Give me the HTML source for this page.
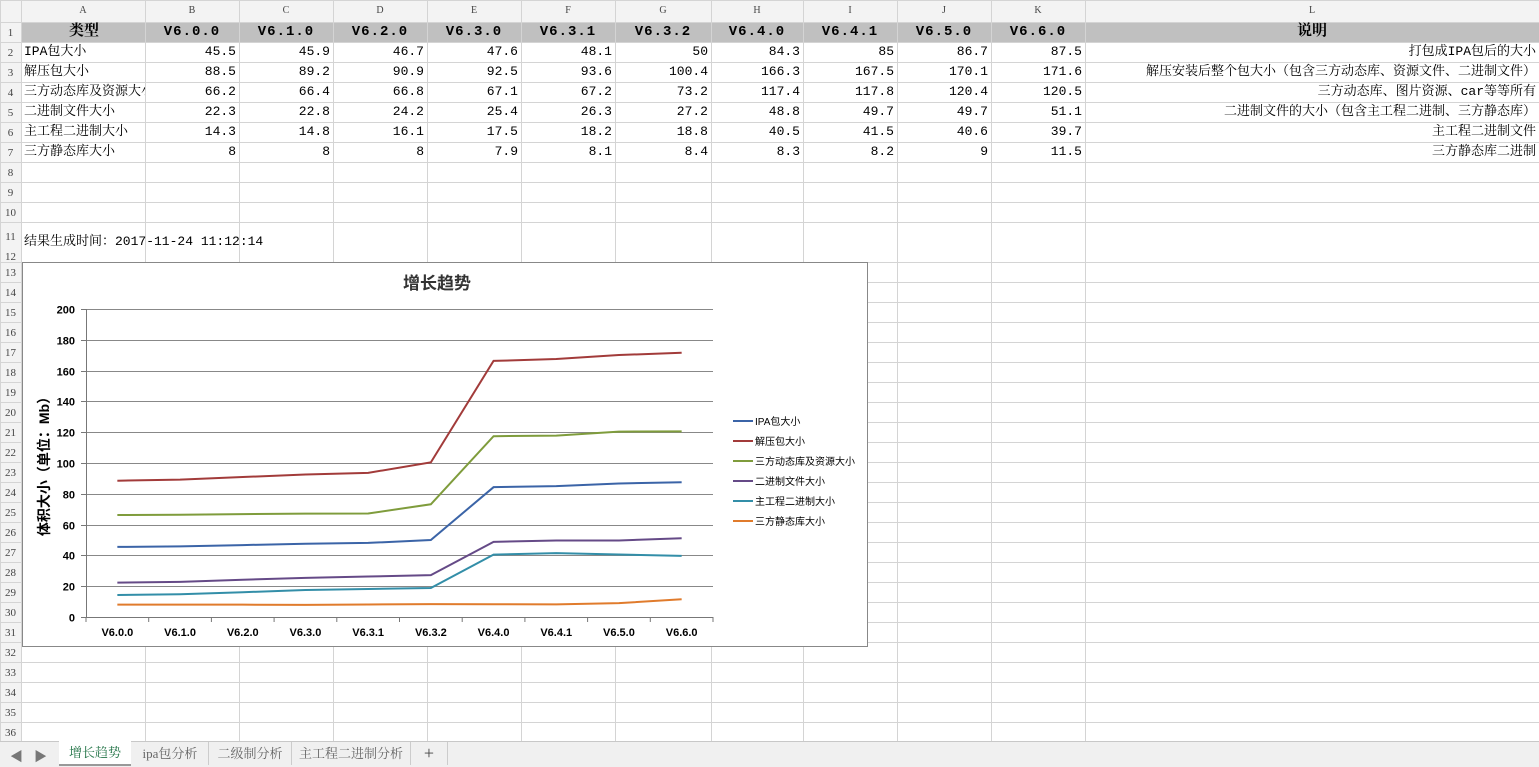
<!DOCTYPE html>
<html><head><meta charset="utf-8"><style>
body{margin:0;width:1539px;height:766px;overflow:hidden;background:#fff;font-family:"Liberation Mono","Noto Serif CJK SC",monospace;position:relative}
.abs{position:absolute}
.c{position:absolute;font-size:13px;white-space:nowrap;overflow:hidden;line-height:20px}
</style></head><body>
<svg class="abs" style="left:0;top:0" width="1539" height="766" id="grid"></svg>
<div id="cells"></div>
<svg class="abs" style="left:22px;top:262px;background:#fff" width="846" height="385" id="chart"></svg>
<div class="abs" style="left:0;top:741px;width:1539px;height:25px;background:#f0f0f0;border-top:1px solid #c8c8c8;font-size:13px;color:#666;font-family:'Liberation Serif','Noto Serif CJK SC',serif">
<span class="abs" style="left:10px;top:4px;color:#777">◀</span>
<span class="abs" style="left:34px;top:4px;color:#777">▶</span>
<div class="abs" style="left:59px;top:-1px;width:72px;height:23px;background:#fff;border-bottom:2px solid #999;color:#217346;text-align:center;line-height:23px">增长趋势</div>
<div class="abs" style="left:132px;top:0;width:76px;line-height:23px;text-align:center;border-right:1px solid #ccc">ipa包分析</div>
<div class="abs" style="left:209px;top:0;width:82px;line-height:23px;text-align:center;border-right:1px solid #ccc">二级制分析</div>
<div class="abs" style="left:292px;top:0;width:118px;line-height:23px;text-align:center;border-right:1px solid #ccc">主工程二进制分析</div>
<div class="abs" style="left:411px;top:0;width:36px;line-height:23px;text-align:center;font-size:18px;color:#444;border-right:1px solid #ccc">+</div>
</div>
<script>
const NS="http://www.w3.org/2000/svg";
const colX=[0,21,145,239,333,427,521,615,711,803,897,991,1085,1539];
const letters=["A","B","C","D","E","F","G","H","I","J","K","L"];
const versions=["V6.0.0","V6.1.0","V6.2.0","V6.3.0","V6.3.1","V6.3.2","V6.4.0","V6.4.1","V6.5.0","V6.6.0"];
const names=["IPA包大小","解压包大小","三方动态库及资源大小","二进制文件大小","主工程二进制大小","三方静态库大小"];
const s1=[45.5,45.9,46.7,47.6,48.1,50,84.3,85,86.7,87.5];
const s2=[88.5,89.2,90.9,92.5,93.6,100.4,166.3,167.5,170.1,171.6];
const s3=[66.2,66.4,66.8,67.1,67.2,73.2,117.4,117.8,120.4,120.5];
const s4=[22.3,22.8,24.2,25.4,26.3,27.2,48.8,49.7,49.7,51.1];
const s5=[14.3,14.8,16.1,17.5,18.2,18.8,40.5,41.5,40.6,39.7];
const s6=[8,8,8,7.9,8.1,8.4,8.3,8.2,9,11.5];
const series=[s1,s2,s3,s4,s5,s6];
const descs=["打包成IPA包后的大小","解压安装后整个包大小（包含三方动态库、资源文件、二进制文件）","三方动态库、图片资源、car等等所有","二进制文件的大小（包含主工程二进制、三方静态库）","主工程二进制文件","三方静态库二进制"];
const colors=["#3b64a7","#a23b3a","#7f9c3c","#654a87","#338ea8","#e07b2c"];
const yTicks=[0,20,40,60,80,100,120,140,160,180,200];
const g=document.getElementById('grid');
function ln(x1,y1,x2,y2,c){const l=document.createElementNS(NS,'line');l.setAttribute('x1',x1);l.setAttribute('y1',y1);l.setAttribute('x2',x2);l.setAttribute('y2',y2);l.setAttribute('stroke',c);g.appendChild(l);}
const rowY=[0,22];for(let r=1;r<=10;r++)rowY.push(22+r*20);rowY.push(250,262);for(let r=13;r<=37;r++)rowY.push(262+(r-12)*20);
const hdr=document.createElementNS(NS,'rect');hdr.setAttribute('x',0);hdr.setAttribute('y',0);hdr.setAttribute('width',1539);hdr.setAttribute('height',22);hdr.setAttribute('fill','#f3f3f3');g.appendChild(hdr);
const hr=document.createElementNS(NS,'rect');hr.setAttribute('x',21);hr.setAttribute('y',22);hr.setAttribute('width',1518);hr.setAttribute('height',20);hr.setAttribute('fill','#c0c0c0');g.appendChild(hr);
const rh=document.createElementNS(NS,'rect');rh.setAttribute('x',0);rh.setAttribute('y',22);rh.setAttribute('width',21);rh.setAttribute('height',720);rh.setAttribute('fill','#f3f3f3');g.appendChild(rh);
rowY.forEach((y,i)=>{if(i!==12)ln(0,y+.5,1539,y+.5,'#d4d4d4');});
colX.forEach(x=>ln(x+.5,0,x+.5,741,'#d4d4d4'));
const cells=document.getElementById('cells');
function cell(x,y,w,txt,align,extra,name){const d=document.createElement('div');d.className='c';d.style.left=x+'px';d.style.top=y+'px';d.style.width=w+'px';d.style.textAlign=align;if(extra)d.style.cssText+=extra;d.textContent=txt;cells.appendChild(d);}
letters.forEach((L,i)=>cell(colX[i+1],1,colX[i+2]-colX[i+1],L,'center','font-size:10px;color:#444;font-family:"Liberation Serif",serif','col-header-'+L.toLowerCase()));
for(let r=1;r<=36;r++){cell(0,(rowY[r]+rowY[r+1])/2-9,21,String(r),'center','font-size:11px;color:#444;font-family:"Liberation Serif",serif','row-header-'+r);}
cell(colX[1]+2,22,122,'类型','center','font-size:15px;font-weight:bold','header-type');
versions.forEach((v,i)=>cell(colX[i+2],22,colX[i+3]-colX[i+2],v.split('').join(''),'center','font-size:14px;font-weight:bold;letter-spacing:1px','header-'+v));
cell(colX[12],22,454,'说明','center','font-size:15px;font-weight:bold','header-desc');
names.forEach((n,r)=>{const y=42+r*20;cell(colX[1]+3,y,121,n,'left','','row-name-'+(r+1));
series[r].forEach((v,i)=>cell(colX[i+2],y,colX[i+3]-colX[i+2]-3,String(v),'right','','value-'+(r+1)+'-'+i));
cell(colX[12],y,451,descs[r],'right','','desc-'+(r+1));});
cell(24,232,300,'结果生成时间：2017-11-24 11:12:14','left','','timestamp');
const ch=document.getElementById('chart');
function el(t,a,txt){const e=document.createElementNS(NS,t);for(const k in a)e.setAttribute(k,a[k]);if(txt!==undefined)e.textContent=txt;ch.appendChild(e);return e;}
el('rect',{x:.5,y:.5,width:845,height:384,fill:'#fff',stroke:'#888'});
const X0=64,X1=691,Y0=355,Y1=47;
const xs=i=>X0+(i+.5)*(X1-X0)/versions.length;
const ys=v=>Y0-(v/200)*(Y0-Y1);
const t=el('text',{x:415,y:27,'text-anchor':'middle','font-size':17,'font-weight':'bold','font-family':'Liberation Sans,Noto Sans CJK SC,sans-serif',fill:'#333'},'增长趋势');
yTicks.forEach(v=>{const y=Math.round(ys(v))+.5;const gl=el('line',{x1:X0,x2:X1,y1:y,y2:y,stroke:v?'#888':'#777'});el('line',{x1:X0-5,x2:X0,y1:y,y2:y,stroke:'#777'});
const tl=el('text',{x:X0-11,y:y+4,'text-anchor':'end','font-size':11,'font-weight':'bold','font-family':'Liberation Sans,sans-serif'},String(v));});
el('line',{x1:X0+.5,x2:X0+.5,y1:Y1,y2:Y0,stroke:'#777'});
versions.forEach((v,i)=>{const x=X0+i*(X1-X0)/versions.length;el('line',{x1:x,x2:x,y1:Y0,y2:Y0+5,stroke:'#777'});
const tl=el('text',{x:xs(i),y:Y0+19,'text-anchor':'middle','font-size':11,'font-weight':'bold','font-family':'Liberation Sans,sans-serif'},v);});
el('line',{x1:X1,x2:X1,y1:Y0,y2:Y0+5,stroke:'#777'});
const yt=el('text',{transform:'translate(27,201) rotate(-90)','text-anchor':'middle','font-size':14,'font-weight':'bold','font-family':'Liberation Sans,Noto Sans CJK SC,sans-serif'},'体积大小（单位：Mb）');
series.forEach((s,k)=>{const p=el('polyline',{points:s.map((v,i)=>xs(i)+','+ys(v)).join(' '),fill:'none',stroke:colors[k],'stroke-width':2});
const ly=159+k*20;el('line',{x1:711,x2:731,y1:ly,y2:ly,stroke:colors[k],'stroke-width':2});
const lt=el('text',{x:733,y:ly+4,'font-size':10,'font-family':'Liberation Sans,Noto Sans CJK SC,sans-serif'},names[k]);});
</script>
</body></html>
